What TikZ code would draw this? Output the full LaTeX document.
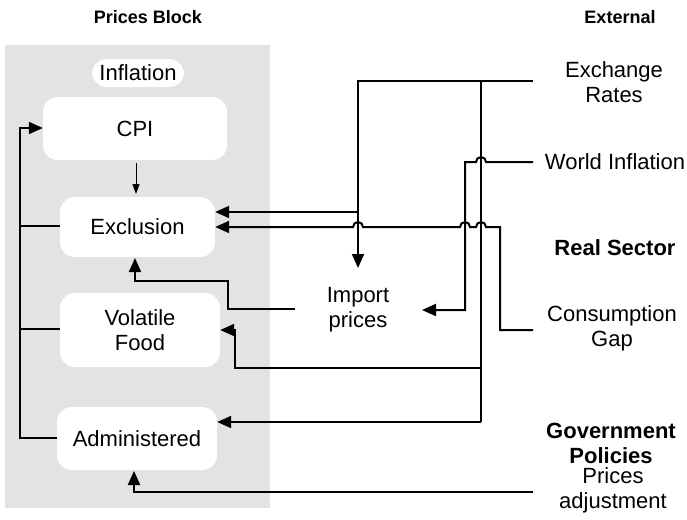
\documentclass[tikz,border=0pt]{standalone}
\usepackage{fontspec}
\setmainfont{Liberation Sans}
\usetikzlibrary{arrows.meta,calc}
\begin{document}
\begin{tikzpicture}[x=1pt,y=-1pt,
  txt/.style={font=\fontsize{22}{25}\selectfont, align=center, inner sep=0pt},
  hd/.style={font=\fontsize{22}{25}\selectfont\bfseries, align=center, inner sep=0pt},
  hdsmall/.style={font=\fontsize{18}{22}\selectfont\bfseries, align=center, inner sep=0pt},
  box/.style={fill=white, rounded corners=15pt, inner sep=0pt, font=\fontsize{22}{25}\selectfont, align=center},
  ln/.style={line width=2pt, line join=miter},
  arr/.style={ln, -{Triangle[length=14pt,width=12pt]}},
  thinarr/.style={line width=0.9pt, -{Triangle[length=10pt,width=7pt]}},
]
\useasboundingbox (0,0) rectangle (687,519);
% stippled block
\fill[gray!22] (5,45) rectangle (270,508);
% boxes
\node[box, minimum width=92pt, minimum height=28pt] (infl) at (138,73) {Inflation};
\node[box, minimum width=184pt, minimum height=63pt] (cpi) at (135,128.5) {CPI};
\node[box, minimum width=155pt, minimum height=60pt] (excl) at (137.5,227) {Exclusion};
\node[box, minimum width=160pt, minimum height=74pt] (vol) at (140,330) {Volatile\\Food};
\node[box, minimum width=160pt, minimum height=63pt] (adm) at (137,438.5) {Administered};
\node[txt] (imp) at (358,310) {Import\\prices};
% headings and external texts
\node[hdsmall] (pb) at (148,17) {Prices Block};
\node[hdsmall] (ext) at (620,17) {External};
\node[txt] (exr) at (614,82) {Exchange\\Rates};
\node[txt] (wi) at (615,162) {World Inflation};
\node[hd] (rs) at (615,248) {Real Sector};
\node[txt] (cg) at (612,328) {Consumption\\Gap};
\node[hd] (gp) at (611,443) {Government\\Policies};
\node[txt] (pa) at (613,490) {Prices\\adjustment};
% free ends
\coordinate (exR) at (533,81);
\coordinate (wiR) at (533,162);
\coordinate (cgR) at (533,330);
\coordinate (paR) at (533,492);
% exchange rates
\draw[arr] (exR) -- (358,81) -- (358,212) -- (excl.east |- 0,212);
\draw[arr] (358,212) -- (358,268);
\draw[ln] (481,81) -- (481,422);
\draw[arr] (481,422) -- (adm.east |- 0,422);
\draw[arr] (481,368) -- (235,368) -- (235,330) -- (vol.east |- 0,330);
% world inflation
\draw[arr] (wiR) -- (486,162) arc[start angle=0,end angle=180,radius=5pt] -- (465,162) -- (465,310) -- (422,310);
% consumption gap
\draw[arr] (cgR) -- (500,330) -- (500,227) -- (486,227)
  arc[start angle=0,end angle=180,radius=5pt] -- (470,227)
  arc[start angle=0,end angle=180,radius=5pt] -- (363,227)
  arc[start angle=0,end angle=180,radius=5pt] -- (excl.east |- 0,227);
% import prices to exclusion
\draw[arr] (295,309) -- (228,309) -- (228,281) -- (135,281) -- (135,258);
% prices adjustment
\draw[arr] (paR) -- (134,492) -- (134,471);
% feedback to CPI
\draw[ln] (excl.west |- 0,226) -- (20,226);
\draw[ln] (vol.west |- 0,329) -- (20,329);
\draw[arr] (adm.west |- 0,438) -- (20,438) -- (20,128) -- (cpi.west |- 0,128);
% CPI to exclusion
\draw[thinarr] (136,163) -- (136,194);
\end{tikzpicture}
\end{document}
